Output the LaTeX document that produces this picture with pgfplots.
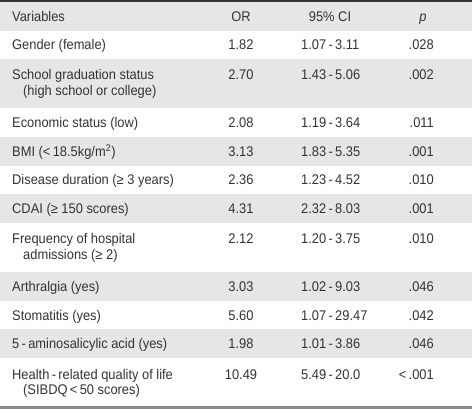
\documentclass[border=0pt]{standalone}
\usepackage{fontspec}
\setmainfont{Liberation Sans}[FakeStretch=0.92]
\usepackage{pgfplots}
\usepackage{pgfplotstable}
\pgfplotsset{compat=1.18}
\definecolor{txt}{HTML}{333333}
\definecolor{rowgray}{HTML}{E6E6E6}
\definecolor{topline}{HTML}{333333}
\definecolor{botline}{HTML}{8A8A8A}
\pgfplotstableread[col sep=comma]{
y,OR,CI,p
50,1.82,1.07\,-\,3.11,.028
80,2.70,1.43\,-\,5.06,.002
127.5,2.08,1.19\,-\,3.64,.011
156.5,3.13,1.83\,-\,5.35,.001
185,2.36,1.23\,-\,4.52,.010
213.5,4.31,2.32\,-\,8.03,.001
244,2.12,1.20\,-\,3.75,.010
291.5,3.03,1.02\,-\,9.03,.046
320,5.60,1.07\,-\,29.47,.042
348.5,1.98,1.01\,-\,3.86,.046
379,10.49,5.49\,-\,20.0,<\,.001
}\stats
\begin{document}
\begin{tikzpicture}[font=\fontsize{14}{16}\selectfont, text=txt]
\begin{axis}[
  scale only axis, width=472pt, height=409pt,
  xmin=0, xmax=472, ymin=0, ymax=409, y dir=reverse,
  hide axis, clip=false,
]
% row shading
\fill[rowgray] (axis cs:0,2) rectangle (axis cs:472,31);
\fill[rowgray] (axis cs:0,59) rectangle (axis cs:472,108);
\fill[rowgray] (axis cs:0,137) rectangle (axis cs:472,166);
\fill[rowgray] (axis cs:0,194) rectangle (axis cs:472,223);
\fill[rowgray] (axis cs:0,272) rectangle (axis cs:472,301);
\fill[rowgray] (axis cs:0,329) rectangle (axis cs:472,358);
\fill[topline] (axis cs:0,0) rectangle (axis cs:472,2);
\fill[botline] (axis cs:0,406) rectangle (axis cs:472,409);
% header
\node[anchor=base west, inner sep=0pt] at (axis cs:12,21.5) {Variables};
\node[anchor=base, inner sep=0pt] at (axis cs:241,21.5) {OR};
\node[anchor=base, inner sep=0pt] at (axis cs:330,21.5) {95\% CI};
\node[anchor=base, inner sep=0pt] at (axis cs:423,21.5) {\itshape p};
% variables
\node[anchor=base west, inner sep=0pt] at (axis cs:12,50) {Gender (female)};
\node[anchor=base west, inner sep=0pt] at (axis cs:12,80) {School graduation status};
\node[anchor=base west, inner sep=0pt] at (axis cs:23,96) {(high school or college)};
\node[anchor=base west, inner sep=0pt] at (axis cs:12,127.5) {Economic status (low)};
\node[anchor=base west, inner sep=0pt] at (axis cs:12,156.5) {BMI (<\,18.5kg/m\textsuperscript{2})};
\node[anchor=base west, inner sep=0pt] at (axis cs:12,185) {Disease duration (≥ 3 years)};
\node[anchor=base west, inner sep=0pt] at (axis cs:12,213.5) {CDAI (≥ 150 scores)};
\node[anchor=base west, inner sep=0pt] at (axis cs:12,244) {Frequency of hospital};
\node[anchor=base west, inner sep=0pt] at (axis cs:23,260) {admissions (≥ 2)};
\node[anchor=base west, inner sep=0pt] at (axis cs:12,291.5) {Arthralgia (yes)};
\node[anchor=base west, inner sep=0pt] at (axis cs:12,320) {Stomatitis (yes)};
\node[anchor=base west, inner sep=0pt] at (axis cs:12,348.5) {5\,-\,aminosalicylic acid (yes)};
\node[anchor=base west, inner sep=0pt] at (axis cs:12,379) {Health\,-\,related quality of life};
\node[anchor=base west, inner sep=0pt] at (axis cs:23,395) {(SIBDQ\,<\,50 scores)};
% numeric columns
\addplot[draw=none, mark=none, point meta=explicit symbolic, nodes near coords,
  every node near coord/.append style={anchor=base, inner sep=0pt, text=txt}]
  table[x expr=241, y=y, meta=OR]{\stats};
\addplot[draw=none, mark=none, point meta=explicit symbolic, nodes near coords,
  every node near coord/.append style={anchor=base west, inner sep=0pt, text=txt}]
  table[x expr=301, y=y, meta=CI]{\stats};
\addplot[draw=none, mark=none, point meta=explicit symbolic, nodes near coords,
  every node near coord/.append style={anchor=base east, inner sep=0pt, text=txt}]
  table[x expr=434, y=y, meta=p]{\stats};
\end{axis}
\end{tikzpicture}
\end{document}
